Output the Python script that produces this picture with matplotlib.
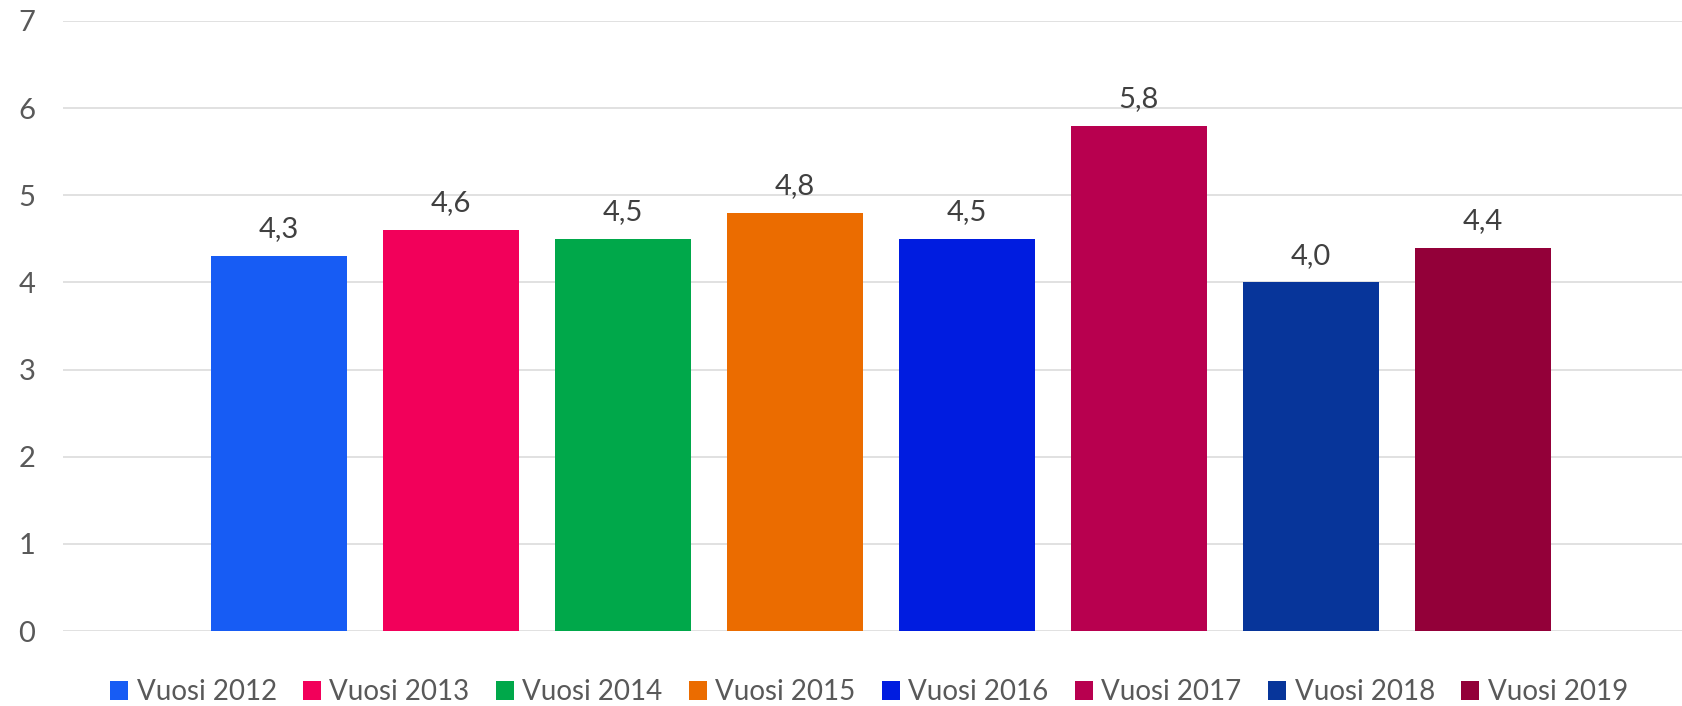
import numpy as np
import matplotlib.pyplot as plt
from matplotlib.patches import Patch

series = ['Vuosi 2012', 'Vuosi 2013', 'Vuosi 2014', 'Vuosi 2015',
          'Vuosi 2016', 'Vuosi 2017', 'Vuosi 2018', 'Vuosi 2019']
values = [4.3, 4.6, 4.5, 4.8, 4.5, 5.8, 4.0, 4.4]
colors = ['#175CF4', '#F2005A', '#00A84A', '#EB6C00',
          '#001CE0', '#B8004F', '#07359A', '#930039']
yticks = [0, 1, 2, 3, 4, 5, 6, 7]

plt.rcParams['font.family'] = ['Lato', 'DejaVu Sans']

W, H = 1683, 706
fig = plt.figure(figsize=(W / 100, H / 100), dpi=100)
ax = fig.add_axes([63 / W, 75 / H, 1 - 63 / W, 610 / H])

x = np.arange(len(values))
bars = ax.bar(x, values, width=0.79, color=colors, zorder=3)

# data labels above each bar, decimal comma
for b, v in zip(bars, values):
    ax.annotate(f"{v:.1f}".replace('.', ','),
                (b.get_x() + b.get_width() / 2, v),
                xytext=(0, 13.5), textcoords='offset points',
                ha='center', va='baseline', fontsize=21, color='#404040')

ax.set_xlim(-1.256, 8.163)
ax.set_ylim(0, 7)
ax.set_yticks(yticks)
ax.set_yticklabels([str(t) for t in yticks])
ax.set_xticks([])
ax.grid(axis='y', color='#D9D9D9', linewidth=1.1, zorder=0)
for s in ax.spines.values():
    s.set_visible(False)
ax.tick_params(axis='y', length=0, pad=20, labelsize=21, labelcolor='#595959')

handles = [Patch(facecolor=c, edgecolor='none') for c in colors]
fig.legend(handles, series, loc='center', bbox_to_anchor=(869 / W, 1 - 692 / H),
           ncol=8, frameon=False, fontsize=20, labelcolor='#595959',
           handlelength=0.65, handleheight=0.65, handletextpad=0.3,
           columnspacing=0.95, borderpad=0)

fig.savefig('out.png', dpi=100)
